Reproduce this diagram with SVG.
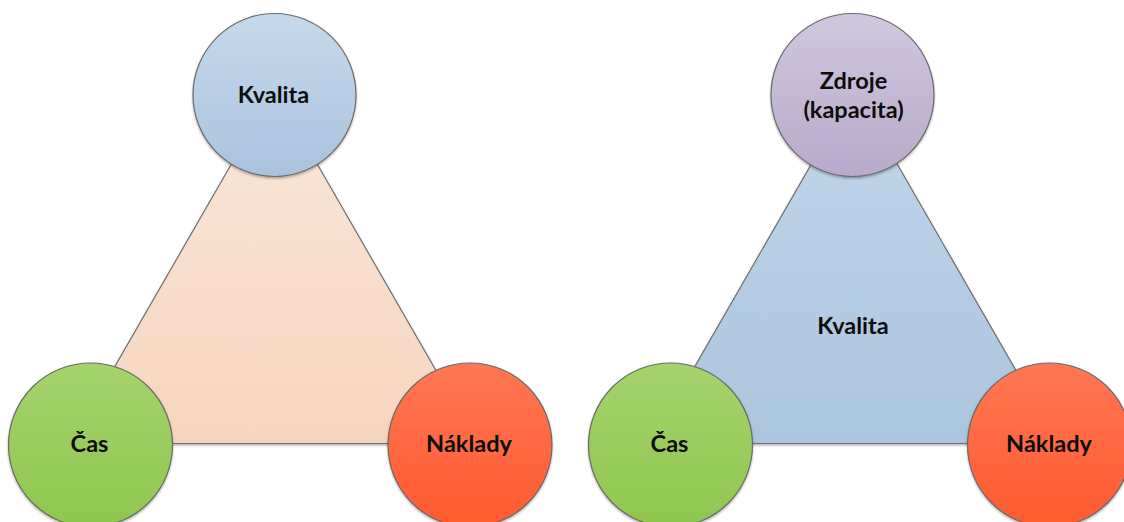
<svg xmlns="http://www.w3.org/2000/svg" width="1124" height="522" viewBox="0 0 1124 522">
  <style>
    .edge { stroke: #6f6f6f; stroke-width: 1.2; }
    .ring { stroke: #6a6a6a; stroke-width: 1.2; }
    .label { font-family: Lato, "Liberation Sans", sans-serif; font-weight: bold; font-size: 23.5px; fill: #0d0d0d; text-anchor: middle; }
  </style>
  <defs>
    <linearGradient id="gBlue" x1="0" y1="0" x2="0" y2="1">
      <stop offset="0" stop-color="#c6d9ec"/>
      <stop offset="1" stop-color="#a9c3de"/>
    </linearGradient>
    <linearGradient id="gPurple" x1="0" y1="0" x2="0" y2="1">
      <stop offset="0" stop-color="#d0c7e0"/>
      <stop offset="1" stop-color="#b8a9ca"/>
    </linearGradient>
    <linearGradient id="gGreen" x1="0" y1="0" x2="0" y2="1">
      <stop offset="0" stop-color="#a4d36b"/>
      <stop offset="1" stop-color="#8fc64f"/>
    </linearGradient>
    <linearGradient id="gOrange" x1="0" y1="0" x2="0" y2="1">
      <stop offset="0" stop-color="#ff7754"/>
      <stop offset="1" stop-color="#ff5a30"/>
    </linearGradient>
    <linearGradient id="gPeach" x1="0" y1="0" x2="0" y2="1">
      <stop offset="0" stop-color="#fae6d8"/>
      <stop offset="1" stop-color="#f6d5bf"/>
    </linearGradient>
    <linearGradient id="gSky" x1="0" y1="0" x2="0" y2="1">
      <stop offset="0" stop-color="#c0d6ea"/>
      <stop offset="1" stop-color="#abc5de"/>
    </linearGradient>
    <filter id="shade" x="-10%" y="-10%" width="120%" height="125%">
      <feDropShadow dx="0" dy="1.5" stdDeviation="1.2" flood-color="#000000" flood-opacity="0.3"/>
    </filter>
  </defs>

  <!-- triangle frames behind the circles -->
  <g id="connectors">
    <polygon id="triangle-left" class="edge" fill="url(#gPeach)" filter="url(#shade)" points="274.3,89.5 478,443.5 70.5,443.5"/>
    <polygon id="triangle-right" class="edge" fill="url(#gSky)" filter="url(#shade)" points="854.3,89.5 1058,443.5 650.5,443.5"/>
  </g>

  <!-- left triad -->
  <g id="kvalita-left">
    <circle class="ring" cx="274.5" cy="95" r="81.5" fill="url(#gBlue)" filter="url(#shade)"/>
    <text class="label" x="273.5" y="102.5">Kvalita</text>
  </g>
  <g id="cas-left">
    <circle class="ring" cx="90.5" cy="445" r="82" fill="url(#gGreen)" filter="url(#shade)"/>
    <text class="label" x="89.5" y="451.5">Čas</text>
  </g>
  <g id="naklady-left">
    <circle class="ring" cx="470" cy="445" r="82" fill="url(#gOrange)" filter="url(#shade)"/>
    <text class="label" x="469" y="451.5">Náklady</text>
  </g>

  <!-- right triad -->
  <g id="kvalita-right">
    <text class="label" x="853" y="333.5">Kvalita</text>
  </g>
  <g id="zdroje">
    <circle class="ring" cx="852.5" cy="95" r="81.5" fill="url(#gPurple)" filter="url(#shade)"/>
    <text class="label" x="853.5" y="88.5">Zdroje</text>
    <text class="label" x="853.5" y="118">(kapacita)</text>
  </g>
  <g id="cas-right">
    <circle class="ring" cx="670.5" cy="445" r="82" fill="url(#gGreen)" filter="url(#shade)"/>
    <text class="label" x="669.5" y="451.5">Čas</text>
  </g>
  <g id="naklady-right">
    <circle class="ring" cx="1049.5" cy="445" r="82" fill="url(#gOrange)" filter="url(#shade)"/>
    <text class="label" x="1049" y="451.5">Náklady</text>
  </g>
</svg>
